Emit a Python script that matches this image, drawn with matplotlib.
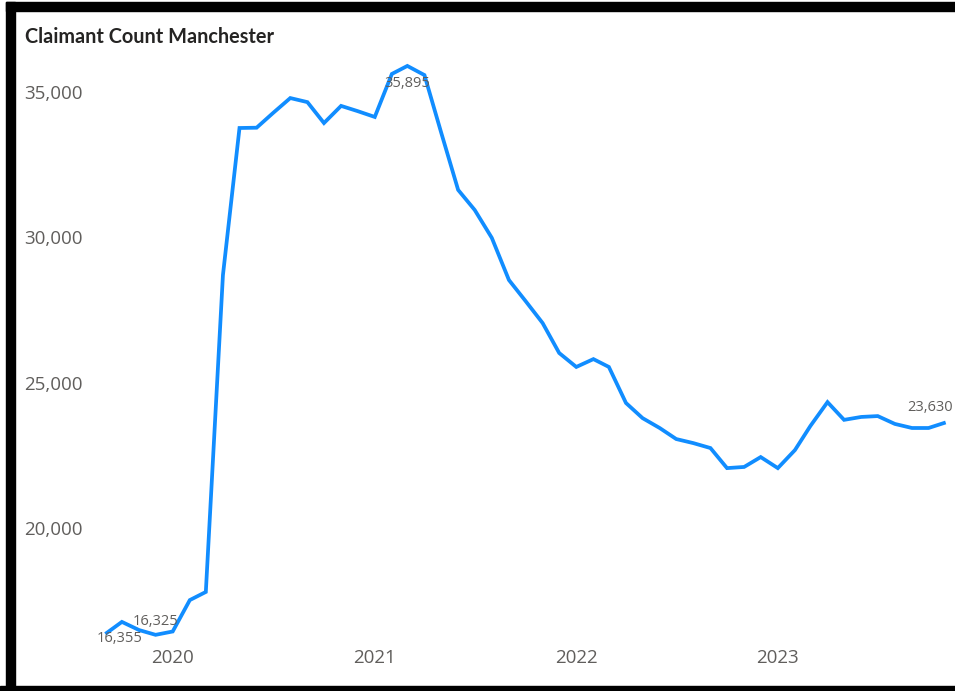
import matplotlib
matplotlib.use("Agg")
import matplotlib.pyplot as plt
import matplotlib.dates as mdates
from matplotlib.ticker import FuncFormatter
from matplotlib.patches import Rectangle
import pandas as pd
import numpy as np

# ---- data ----
start_month = "2019-09"
claimants = [16355, 16770, 16490, 16325, 16440, 17520, 17800, 28700, 33760, 33770,
             34280, 34790, 34650, 33930, 34520, 34340, 34140, 35620, 35895, 35580,
             33620, 31630, 30940, 29980, 28530, 27810, 27050, 26020, 25540, 25810,
             25540, 24300, 23780, 23440, 23060, 22920, 22750, 22060, 22100, 22440,
             22060, 22680, 23510, 24330, 23720, 23820, 23850, 23580, 23440, 23440,
             23630]
months = pd.date_range(start_month, periods=len(claimants), freq="MS")
year_ticks = ["2020", "2021", "2022", "2023"]
y_ticks = [20000, 25000, 30000, 35000]
title = "Claimant Count Manchester"

W, H = 955, 691
fig = plt.figure(figsize=(W / 100, H / 100), dpi=100)
fig.patch.set_facecolor("white")

# axes in pixel coordinates
ax_left, ax_right, ax_top, ax_bottom = 96.5, 954.5, 60, 645
ax = fig.add_axes([ax_left / W, (H - ax_bottom) / H,
                   (ax_right - ax_left) / W, (ax_bottom - ax_top) / H])

x = mdates.date2num(months.to_pydatetime())
ax.plot(x, claimants, color="#118DFF", lw=2.7, solid_joinstyle="miter",
        solid_capstyle="butt", zorder=3)

ax.set_xlim(x[0] - 16, x[-1] + 16)
ax.set_ylim(15975, 36099)

ax.set_yticks(y_ticks)
ax.yaxis.set_major_formatter(FuncFormatter(lambda v, p: f"{int(v):,}"))
xt = [mdates.date2num(pd.Timestamp(f"{y}-01-01").to_pydatetime()) for y in year_ticks]
ax.set_xticks(xt)
ax.set_xticklabels(year_ticks)

tick_font = dict(family="Open Sans", size=13.5, color="#605E5C")
for lab in ax.get_yticklabels() + ax.get_xticklabels():
    lab.set_fontfamily(tick_font["family"])
    lab.set_fontsize(tick_font["size"])
    lab.set_color(tick_font["color"])
ax.tick_params(axis="y", length=0, pad=10)
ax.tick_params(axis="x", length=0, pad=3)
for s in ax.spines.values():
    s.set_visible(False)
ax.grid(False)

# data labels (first, min, max, last)
lab_font = dict(family="Open Sans", fontsize=10.5, color="#605E5C")
i_min = int(np.argmin(claimants))
i_max = int(np.argmax(claimants))
i_last = len(claimants) - 1
label_specs = [(0, (14, -5)), (i_min, (0, 13)), (i_max, (0, -18)), (i_last, (-16, 15))]
for i, off in label_specs:
    ax.annotate(f"{claimants[i]:,}", (x[i], claimants[i]), xytext=off,
                textcoords="offset pixels", ha="center", va="center",
                annotation_clip=False, zorder=4, **lab_font)

fig.text(25 / W, 1 - 37 / H, title, ha="left", va="center",
         family="Lato", fontweight="bold", fontsize=14.3, color="#252423")

# black frame (top, left, bottom)
for (x0, y0, w, h) in [(6, 2, W - 6, 9), (6, 2, 9, H - 2), (0, 686, W, 5)]:
    fig.patches.append(Rectangle((x0 / W, 1 - (y0 + h) / H), w / W, h / H,
                                 transform=fig.transFigure, color="black",
                                 zorder=10))

fig.savefig("out.png", dpi=100)
